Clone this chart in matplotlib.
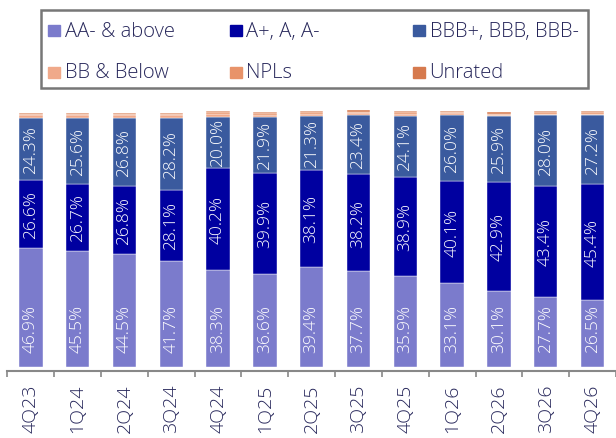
import numpy as np
import matplotlib
matplotlib.use("Agg")
import matplotlib.pyplot as plt
from matplotlib.patches import Rectangle

plt.rcParams['font.family'] = ['Open Sans', 'DejaVu Sans']
plt.rcParams['font.weight'] = 'light'

quarters = ["4Q23", "1Q24", "2Q24", "3Q24", "4Q24", "1Q25", "2Q25",
            "3Q25", "4Q25", "1Q26", "2Q26", "3Q26", "4Q26"]
aa_above = [46.9, 45.5, 44.5, 41.7, 38.3, 36.6, 39.4, 37.7, 35.9, 33.1, 30.1, 27.7, 26.5]
a_range = [26.6, 26.7, 26.8, 28.1, 40.2, 39.9, 38.1, 38.2, 38.9, 40.1, 42.9, 43.4, 45.4]
bbb_range = [24.3, 25.6, 26.8, 28.2, 20.0, 21.9, 21.3, 23.4, 24.1, 26.0, 25.9, 28.0, 27.2]
bb_below = [1.2, 1.2, 1.0, 1.0, 1.0, 0.9, 0.9, 0.7, 0.7, 0.6, 0.4, 0.6, 0.6]
npls = [0.6, 0.6, 0.6, 0.6, 0.8, 0.6, 0.6, 0.5, 0.6, 0.6, 0.4, 0.5, 0.5]
unrated = [0.4, 0.4, 0.4, 0.4, 0.5, 0.4, 0.5, 0.5, 0.4, 0.4, 0.5, 0.4, 0.4]

# name, values, colour, label placement
series = [
    ("AA- & above", aa_above, "#7b7bcc", "base"),
    ("A+, A, A-", a_range, "#0000a0", "center"),
    ("BBB+, BBB, BBB-", bbb_range, "#3a5a9e", "center"),
    ("BB & Below", bb_below, "#f0a98a", None),
    ("NPLs", npls, "#e8936a", None),
    ("Unrated", unrated, "#d67a4e", None),
]

W, H = 616, 439
fig = plt.figure(figsize=(W / 100, H / 100), dpi=100)
ax = fig.add_axes([7.4 / W, (H - 372) / H, (W - 7.4) / W, (372 - 105) / H])

x = np.arange(len(quarters))
bottom = np.zeros(len(quarters))
for name, vals, color, place in series:
    vals = np.array(vals)
    ax.bar(x, vals, width=0.5, bottom=bottom, color=color, edgecolor="white", linewidth=0.3)
    if place == "center":
        for xi, b, v in zip(x, bottom, vals):
            ax.text(xi, b + v / 2, f"{v:.1f}%", rotation=90, ha="center", va="center",
                    color="white", fontsize=12.5)
    elif place == "base":
        for xi, b, v in zip(x, bottom, vals):
            ax.text(xi, b + 5.9, f"{v:.1f}%", rotation=90, ha="center", va="bottom",
                    color="white", fontsize=12.5)
    bottom += vals

ax.set_xlim(-0.5, 12.42)
ax.set_ylim(-1.57, 103.5)
for s in ["top", "right", "left"]:
    ax.spines[s].set_visible(False)
ax.spines["bottom"].set_color("#888888")
ax.spines["bottom"].set_linewidth(1.5)
ax.set_yticks([])
ax.set_xticks(x)
ax.set_xticklabels(quarters, rotation=90, fontsize=14, color="#26265a")
ax.tick_params(axis="x", which="major", length=0, pad=9)
ax.set_xticks(np.arange(-0.5, len(quarters), 1), minor=True)
ax.tick_params(axis="x", which="minor", length=4, width=1.2, color="#888888")

# legend box drawn as a fixed grid
fig.patches.append(Rectangle((40.7 / W, 1 - 89 / H), (587.7 - 40.7) / W, 78 / H,
                             transform=fig.transFigure, fill=False,
                             edgecolor="#777777", linewidth=1.8))
col_x = [48.3, 230, 413]
row_y = [31.7, 73]
for i, (name, vals, color, place) in enumerate(series):
    cx = col_x[i % 3]
    cy = row_y[i // 3]
    fig.patches.append(Rectangle((cx / W, 1 - (cy + 5.5) / H), 11.5 / W, 11 / H,
                                 transform=fig.transFigure, color=color))
    fig.text((cx + 16.5) / W, 1 - cy / H, name, ha="left", va="center",
             fontsize=14.5, color="#26265a")

fig.savefig("out.png", dpi=100)
